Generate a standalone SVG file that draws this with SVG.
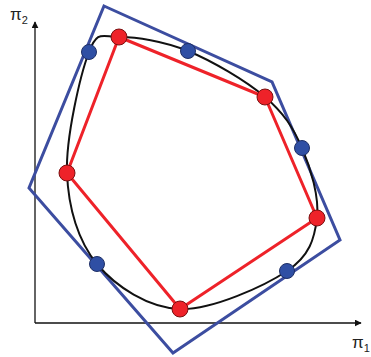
<svg xmlns="http://www.w3.org/2000/svg" width="371" height="357" viewBox="0 0 371 357">
<style>
.axis{stroke:#111;stroke-width:1.3;fill:none}
.blue{stroke:#3c4da0;stroke-width:3;fill:none;stroke-linejoin:miter}
.red{stroke:#ee2229;stroke-width:3;fill:none;stroke-linejoin:round}
.curve{stroke:#111;stroke-width:2;fill:none}
.bd{fill:#2f4fa4;stroke:#1e2f66;stroke-width:1}
.rd{fill:#ee2229;stroke:#7a1010;stroke-width:1}
.lbl{font-family:"Liberation Sans",Arial,sans-serif;font-size:17px;fill:#222}
.sub{font-family:"Liberation Sans",Arial,sans-serif;font-size:11px;fill:#222}
</style>
<defs>
<marker id="arr" viewBox="0 0 10 10" refX="9" refY="5" markerWidth="7" markerHeight="7" markerUnits="userSpaceOnUse" orient="auto">
<path d="M0,0 L10,5 L0,10 Z" fill="#111"/>
</marker>
</defs>
<g id="axes">
<line class="axis" x1="35" y1="323" x2="35" y2="22" marker-end="url(#arr)"/>
<line class="axis" x1="35" y1="323" x2="361" y2="323" marker-end="url(#arr)"/>
<text class="lbl" x="10" y="20">π<tspan class="sub" dy="4">2</tspan></text>
<text class="lbl" x="352" y="348">π<tspan class="sub" dy="4">1</tspan></text>
</g>
<g id="connectors">
<polygon id="outer" class="blue" points="104,6 272,82 340,240 173,353 29,188"/>
<path id="curve" class="curve" d="M119,37 C135.5,36.8 163.7,41 188,51 C212.3,61 246,80.8 265,97 C284,113.2 293.3,127.8 302,148 C310.7,168.2 319.5,197.5 317,218 C314.5,238.5 309.8,255.8 287,271 C264.2,286.2 211.7,310.2 180,309 C148.3,307.8 115.8,286.7 97,264 C78.2,241.3 68.3,208.3 67,173 C65.7,137.7 80.3,74.7 89,52 C97.7,29.3 102.5,37.2 119,37 Z"/>
<polygon id="inner" class="red" points="119,37 265,97 317,218 180,309 67,173"/>
</g>
<g id="blue-points">
<circle class="bd" cx="89" cy="52" r="7.5"/>
<circle class="bd" cx="188" cy="51" r="7.5"/>
<circle class="bd" cx="302" cy="148" r="7.5"/>
<circle class="bd" cx="287" cy="271" r="7.5"/>
<circle class="bd" cx="97" cy="264" r="7.5"/>
</g>
<g id="red-points">
<circle class="rd" cx="119" cy="37" r="8"/>
<circle class="rd" cx="265" cy="97" r="8"/>
<circle class="rd" cx="317" cy="218" r="8"/>
<circle class="rd" cx="180" cy="309" r="8"/>
<circle class="rd" cx="67" cy="173" r="8"/>
</g>
</svg>
